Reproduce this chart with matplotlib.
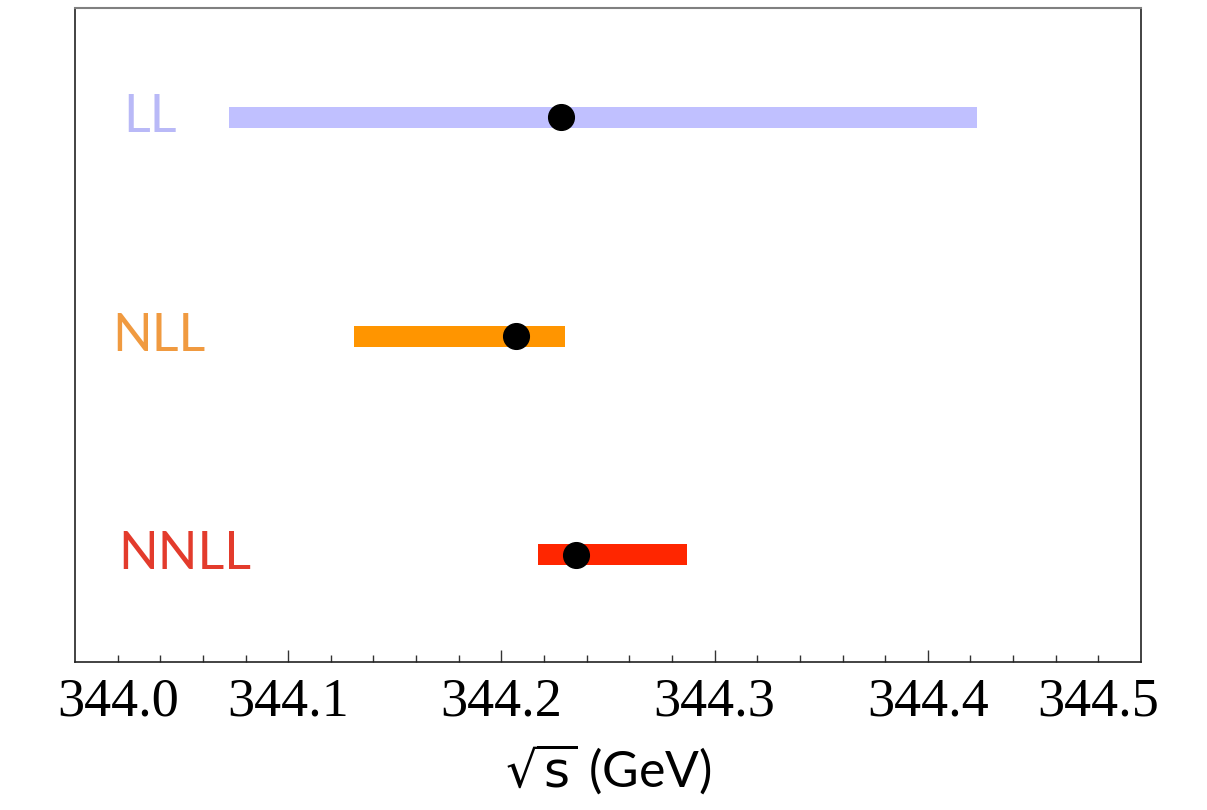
import matplotlib
matplotlib.use("Agg")
import matplotlib.pyplot as plt

orders = ["LL", "NLL", "NNLL"]
ypos = [3, 2, 1]
low = [344.072, 344.131, 344.217]
high = [344.423, 344.230, 344.287]
central = [344.228, 344.207, 344.235]
bar_colors = ["#c0c0ff", "#ff9500", "#ff2600"]
text_colors = ["#b9b9f7", "#f09a40", "#e33b2c"]
label_x = [344.0225, 344.0175, 344.0205]

major_ticks = [344.02, 344.1, 344.2, 344.3, 344.4, 344.48]
major_labels = ["344.0", "344.1", "344.2", "344.3", "344.4", "344.5"]
minor_ticks = [344.04, 344.06, 344.08, 344.12, 344.14, 344.16, 344.18,
               344.22, 344.24, 344.26, 344.28, 344.32, 344.34, 344.36,
               344.38, 344.42, 344.44, 344.46]

plt.rcParams["mathtext.fontset"] = "dejavusans"

fig = plt.figure(figsize=(12.07, 8.10), dpi=100)
ax = fig.add_axes([75/1207, 148/810, 1066/1207, 654/810])

for y, lo, hi, c in zip(ypos, low, high, bar_colors):
    ax.barh(y, hi - lo, left=lo, height=0.096, color=c, zorder=2)
ax.plot(central, ypos, "o", color="black", markersize=18.5, zorder=3)

for y, name, c, lx in zip(ypos, orders, text_colors, label_x):
    ax.text(lx, y, name, color=c, fontsize=37.5, family="Lato",
            ha="left", va="center")

ax.set_xlim(344.0, 344.5)
ax.set_ylim(0.51, 3.5)
ax.set_yticks([])
ax.set_xticks(major_ticks)
ax.set_xticklabels(major_labels, family="Liberation Serif", fontsize=39)
ax.set_xticks(minor_ticks, minor=True)
ax.tick_params(axis="x", which="major", direction="in", length=9, width=1, pad=11, color="#333333")
ax.tick_params(axis="x", which="minor", direction="in", length=5, width=1, color="#333333")
mt = ax.xaxis.get_major_ticks()
for t in (mt[0], mt[-1]):
    t.tick1line.set_markersize(5)

ax.spines["top"].set_color("#808080")
ax.spines["top"].set_linewidth(1.5)
for s in ["left", "right", "bottom"]:
    ax.spines[s].set_color("#222222")
    ax.spines[s].set_linewidth(1.2)

ax.set_xlabel(r"$\sqrt{\mathsf{s}}$ (GeV)", fontsize=36, family="Lato", labelpad=10)

fig.savefig("out.png", dpi=100)
